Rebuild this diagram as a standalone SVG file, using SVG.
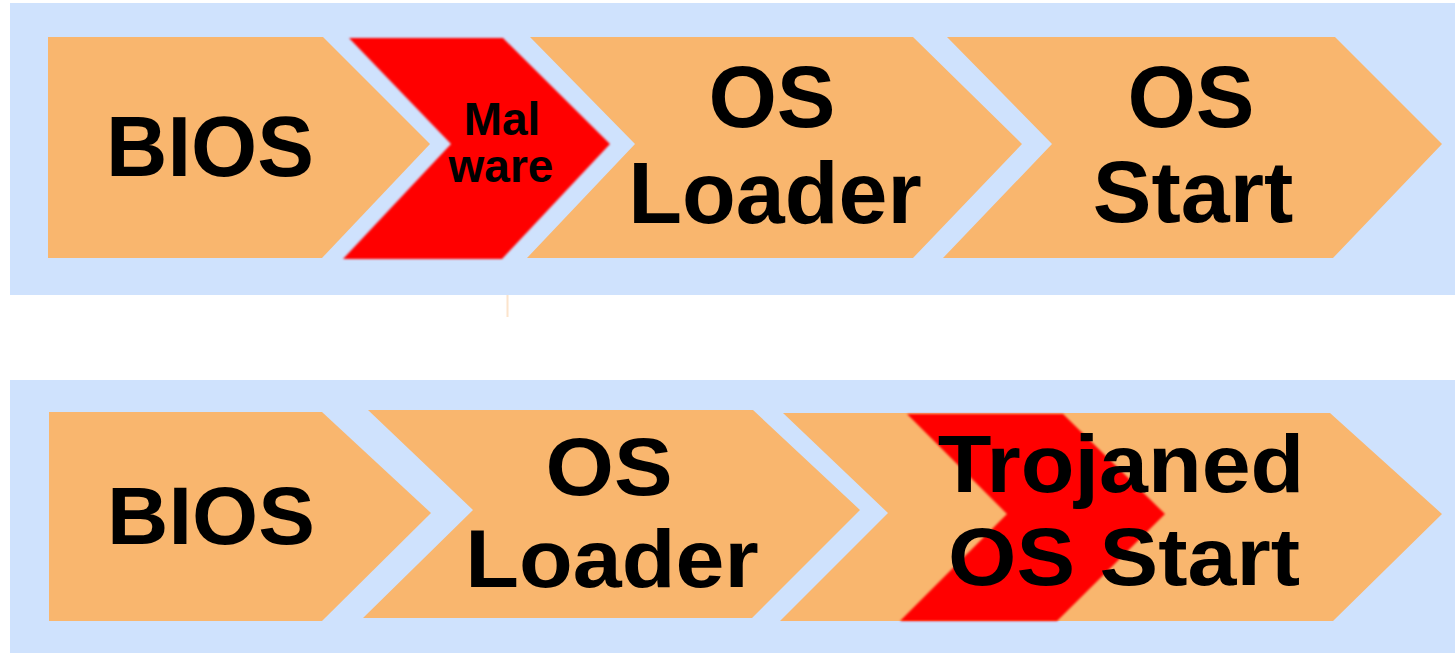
<svg xmlns="http://www.w3.org/2000/svg" width="1455" height="653" viewBox="0 0 1455 653">
  <style>
    .panel { fill: #CFE2FD; }
    .step { fill: #F9B66E; }
    .bad { fill: #FF0000; }
    .lbl { font-family: "Liberation Sans", Arial, sans-serif; font-weight: bold; fill: #000; text-anchor: middle; }
    .big { font-size: 88px; }
    .bios { font-size: 85px; }
    .small { font-size: 46px; }
  </style>
  <defs>
    <filter id="soft" x="-5%" y="-5%" width="110%" height="110%">
      <feGaussianBlur stdDeviation="0.9"/>
    </filter>
  </defs>

  <rect width="1455" height="653" fill="#FFFFFF"/>

  <!-- upper boot chain: infected loader stage -->
  <rect class="panel" x="10" y="3" width="1445" height="292"/>
  <rect x="506.5" y="295" width="2" height="22" fill="#FCE4CC"/>

  <g id="top-bios">
    <path class="step" d="M48,37 L323,37 L430,144 L322,258 L48,258 Z"/>
    <text class="lbl bios" x="210" y="176">BIOS</text>
  </g>
  <g id="top-malware">
    <path class="bad" filter="url(#soft)" d="M349,38 L503,38 L610,144 L502,259 L343,259 L451,144 Z"/>
    <text class="lbl small" x="502" y="135">Mal</text>
    <text class="lbl small" x="501" y="182">ware</text>
  </g>
  <g id="top-os-loader">
    <path class="step" d="M530,37 L913,37 L1022,144 L913,258 L527,258 L635,144 Z"/>
    <text class="lbl big" x="772" y="127">OS</text>
    <text class="lbl big" x="775" y="223">Loader</text>
  </g>
  <g id="top-os-start">
    <path class="step" d="M947,37 L1335,37 L1442,144 L1333,258 L943,258 L1052,144 Z"/>
    <text class="lbl big" x="1191" y="127">OS</text>
    <text class="lbl big" x="1193" y="222">Start</text>
  </g>

  <!-- lower boot chain: trojaned OS start -->
  <rect class="panel" x="10" y="380" width="1445" height="273"/>

  <g id="bottom-bios">
    <path class="step" d="M49,412 L322,412 L431,513 L322,621 L49,621 Z"/>
    <text class="lbl bios" transform="translate(211,544) scale(1,0.95)">BIOS</text>
  </g>
  <g id="bottom-os-loader">
    <path class="step" d="M368,410 L753,410 L860,510 L752,618 L363,618 L473,510 Z"/>
    <text class="lbl big" transform="translate(609,495) scale(1,0.93)">OS</text>
    <text class="lbl big" transform="translate(612,587) scale(1,0.93)">Loader</text>
  </g>
  <g id="bottom-trojaned-os-start">
    <path class="step" d="M783,413 L1330,413 L1442,514 L1333,621 L780,621 L888,513 Z"/>
    <path class="bad" filter="url(#soft)" d="M907,414 L1063,414 L1165,514 L1057,621 L900,621 L1007,514 Z"/>
    <text class="lbl big" transform="translate(1121,492) scale(1,0.93)">Trojaned</text>
    <text class="lbl big" transform="translate(1124,585) scale(1,0.93)">OS Start</text>
  </g>
</svg>
